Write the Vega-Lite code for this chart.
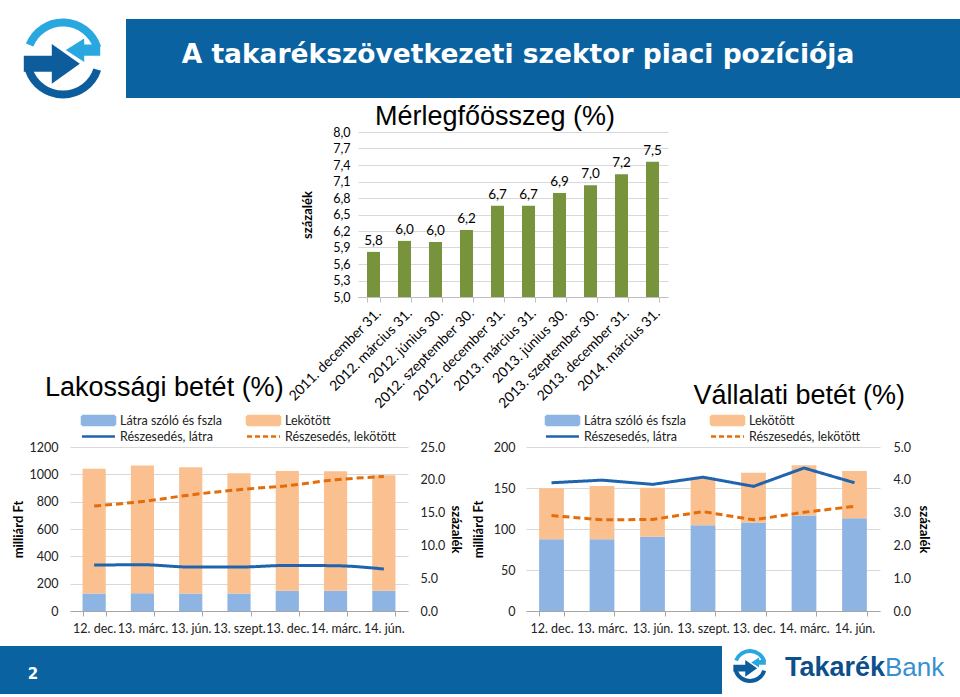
{
  "$schema": "https://vega.github.io/schema/vega-lite/v6.json",
  "padding": {"top": 18, "left": 0, "right": 0, "bottom": 0},
  "background": "white",
  "spacing": 0,
  "bounds": "flush",
  "resolve": {
    "scale": {"color": "independent", "strokeDash": "independent"},
    "legend": {"color": "independent", "strokeDash": "independent"}
  },
  "datasets": {
    "logo": [{"part": "light", "a": -68, "b": 72}, {"part": "dark", "a": 108, "b": 252}],
    "merleg": [
      {"d": "2011. december 31.", "v": 5.82},
      {"d": "2012. március 31.", "v": 6.02},
      {"d": "2012. június 30.", "v": 6.0},
      {"d": "2012. szeptember 30.", "v": 6.22},
      {"d": "2012. december 31.", "v": 6.66},
      {"d": "2013. március 31.", "v": 6.66},
      {"d": "2013. június 30.", "v": 6.89},
      {"d": "2013. szeptember 30.", "v": 7.03},
      {"d": "2013. december 31.", "v": 7.23},
      {"d": "2014. március 31.", "v": 7.46}
    ],
    "lak_bar": [
      {"q": "12. dec.", "s": "Látra szóló és fszla", "v": 128}, {"q": "12. dec.", "s": "Lekötött", "v": 912},
      {"q": "13. márc.", "s": "Látra szóló és fszla", "v": 130}, {"q": "13. márc.", "s": "Lekötött", "v": 934},
      {"q": "13. jún.", "s": "Látra szóló és fszla", "v": 128}, {"q": "13. jún.", "s": "Lekötött", "v": 924},
      {"q": "13. szept.", "s": "Látra szóló és fszla", "v": 128}, {"q": "13. szept.", "s": "Lekötött", "v": 880},
      {"q": "13. dec.", "s": "Látra szóló és fszla", "v": 148}, {"q": "13. dec.", "s": "Lekötött", "v": 877},
      {"q": "14. márc.", "s": "Látra szóló és fszla", "v": 148}, {"q": "14. márc.", "s": "Lekötött", "v": 874},
      {"q": "14. jún.", "s": "Látra szóló és fszla", "v": 148}, {"q": "14. jún.", "s": "Lekötött", "v": 845}
    ],
    "lak_line": [
      {"q": "12. dec.", "s": "Részesedés, látra", "p": 7.0}, {"q": "13. márc.", "s": "Részesedés, látra", "p": 7.05},
      {"q": "13. jún.", "s": "Részesedés, látra", "p": 6.7}, {"q": "13. szept.", "s": "Részesedés, látra", "p": 6.7},
      {"q": "13. dec.", "s": "Részesedés, látra", "p": 6.95}, {"q": "14. márc.", "s": "Részesedés, látra", "p": 6.9},
      {"q": "14. jún.", "s": "Részesedés, látra", "p": 6.4},
      {"q": "12. dec.", "s": "Részesedés, lekötött", "p": 16.0}, {"q": "13. márc.", "s": "Részesedés, lekötött", "p": 16.7},
      {"q": "13. jún.", "s": "Részesedés, lekötött", "p": 17.7}, {"q": "13. szept.", "s": "Részesedés, lekötött", "p": 18.5},
      {"q": "13. dec.", "s": "Részesedés, lekötött", "p": 19.1}, {"q": "14. márc.", "s": "Részesedés, lekötött", "p": 20.0},
      {"q": "14. jún.", "s": "Részesedés, lekötött", "p": 20.5}
    ],
    "vall_bar": [
      {"q": "12. dec.", "s": "Látra szóló és fszla", "v": 87.6}, {"q": "12. dec.", "s": "Lekötött", "v": 62.1},
      {"q": "13. márc.", "s": "Látra szóló és fszla", "v": 87.6}, {"q": "13. márc.", "s": "Lekötött", "v": 64.8},
      {"q": "13. jún.", "s": "Látra szóló és fszla", "v": 90.5}, {"q": "13. jún.", "s": "Lekötött", "v": 59.9},
      {"q": "13. szept.", "s": "Látra szóló és fszla", "v": 104.5}, {"q": "13. szept.", "s": "Lekötött", "v": 58.0},
      {"q": "13. dec.", "s": "Látra szóló és fszla", "v": 107.8}, {"q": "13. dec.", "s": "Lekötött", "v": 60.7},
      {"q": "14. márc.", "s": "Látra szóló és fszla", "v": 116.6}, {"q": "14. márc.", "s": "Lekötött", "v": 61.2},
      {"q": "14. jún.", "s": "Látra szóló és fszla", "v": 113.0}, {"q": "14. jún.", "s": "Lekötött", "v": 57.6}
    ],
    "vall_line": [
      {"q": "12. dec.", "s": "Részesedés, látra", "p": 3.91}, {"q": "13. márc.", "s": "Részesedés, látra", "p": 3.99},
      {"q": "13. jún.", "s": "Részesedés, látra", "p": 3.86}, {"q": "13. szept.", "s": "Részesedés, látra", "p": 4.08},
      {"q": "13. dec.", "s": "Részesedés, látra", "p": 3.8}, {"q": "14. márc.", "s": "Részesedés, látra", "p": 4.36},
      {"q": "14. jún.", "s": "Részesedés, látra", "p": 3.91},
      {"q": "12. dec.", "s": "Részesedés, lekötött", "p": 2.91}, {"q": "13. márc.", "s": "Részesedés, lekötött", "p": 2.78},
      {"q": "13. jún.", "s": "Részesedés, lekötött", "p": 2.79}, {"q": "13. szept.", "s": "Részesedés, lekötött", "p": 3.03},
      {"q": "13. dec.", "s": "Részesedés, lekötött", "p": 2.78}, {"q": "14. márc.", "s": "Részesedés, lekötött", "p": 3.01},
      {"q": "14. jún.", "s": "Részesedés, lekötött", "p": 3.19}
    ]
  },
  "vconcat": [
    {
      "spacing": 0, "bounds": "flush",
      "hconcat": [
        {
          "width": 126, "height": 79,
          "data": {"name": "logo"},
          "layer": [
            {
              "mark": {"type": "arc", "innerRadius": 32, "outerRadius": 40},
              "encoding": {
                "theta": {"field": "a", "type": "quantitative", "stack": null, "scale": {"domain": [0, 360], "range": [0, 6.2832]}},
                "theta2": {"field": "b"},
                "color": {"field": "part", "type": "nominal", "scale": {"domain": ["light", "dark"], "range": ["#29a8e0", "#0d5c9c"]}, "legend": null}
              }
            },
            {
              "data": {"values": [{"k": "dark"}]},
              "mark": {"type": "point", "filled": true, "opacity": 1, "color": "#0d5c9c", "strokeWidth": 0, "size": 6400,
                       "shape": "M-0.98,-0.07L-0.28,-0.07L-0.28,-0.36L0.42,0.13L-0.28,0.63L-0.28,0.33L-0.98,0.33Z"},
              "encoding": {}
            },
            {
              "data": {"values": [{"k": "light"}]},
              "mark": {"type": "point", "filled": true, "opacity": 1, "color": "#29a8e0", "strokeWidth": 0, "size": 6400,
                       "shape": "M0.07,-0.21L0.53,-0.5L0.53,-0.35L0.93,-0.35L0.93,-0.07L0.53,-0.07L0.53,0.09Z"},
              "encoding": {}
            }
          ]
        },
        {
          "width": 834, "height": 79,
          "view": {"fill": "#0a62a0", "stroke": null},
          "data": {"values": [{"t": "A takarékszövetkezeti szektor piaci pozíciója"}]},
          "mark": {"type": "text", "color": "white", "fontWeight": "bold", "fontSize": 26.5, "font": "DejaVu Sans", "dx": -25, "dy": -4},
          "encoding": {"text": {"field": "t"}}
        }
      ]
    },
    {"width": 1, "height": 113, "data": {"values": []}, "mark": "point"},
    {
      "spacing": 0, "bounds": "flush",
      "hconcat": [
        {"width": 358, "height": 1, "data": {"values": []}, "mark": "point"},
        {
          "width": 310, "height": 165,
          "data": {"name": "merleg"},
          "title": {"text": "Mérlegfőösszeg (%)", "anchor": "middle", "frame": "group", "dx": -18, "offset": -5, "fontSize": 27},
          "transform": [{"calculate": "replace(format(datum.v, '.1f'), '.', ',')", "as": "lab"}],
          "encoding": {
            "x": {"field": "d", "type": "nominal", "sort": null,
                  "scale": {"paddingInner": 0.58, "paddingOuter": 0.29},
                  "axis": {"title": null, "labelAngle": -45, "tickBand": "extent", "labelFontSize": 14, "domainColor": "#bfbfbf", "tickColor": "#bfbfbf", "tickSize": 5, "labelPadding": 4, "labelColor": "#000"}},
            "y": {"field": "v", "type": "quantitative",
                  "scale": {"domain": [5, 8], "zero": false, "nice": false, "clamp": true},
                  "axis": {"title": "százalék", "values": [5, 5.3, 5.6, 5.9, 6.2, 6.5, 6.8, 7.1, 7.4, 7.7, 8],
                           "labelExpr": "replace(format(datum.value, '.1f'), '.', ',')",
                           "grid": true, "gridColor": "#d9d9d9", "domain": false, "ticks": false,
                           "labelPadding": 8, "titlePadding": 18, "labelColor": "#000"}}
          },
          "layer": [
            {"mark": {"type": "bar", "color": "#77933c"}},
            {"mark": {"type": "text", "dy": -11, "fontSize": 13.5, "color": "#000"}, "encoding": {"text": {"field": "lab"}}}
          ]
        }
      ]
    },
    {"width": 1, "height": 315, "data": {"values": []}, "mark": "point"},
    {
      "spacing": 0, "bounds": "flush",
      "resolve": {
        "scale": {"color": "independent", "strokeDash": "independent"},
        "legend": {"color": "independent", "strokeDash": "independent"}
      },
      "hconcat": [
        {"width": 70, "height": 1, "data": {"values": []}, "mark": "point"},
        {
          "width": 338, "height": 164,
          "title": {"text": "Lakossági betét (%)", "anchor": "start", "frame": "group", "dx": -25, "offset": 12, "fontSize": 27},
          "encoding": {
            "x": {"field": "q", "type": "nominal",
                  "sort": ["12. dec.", "13. márc.", "13. jún.", "13. szept.", "13. dec.", "14. márc.", "14. jún."],
                  "scale": {"paddingInner": 0.52, "paddingOuter": 0.26},
                  "axis": {"title": null, "labelAngle": 0, "tickBand": "extent", "labelOverlap": false, "labelBound": false, "labelLimit": 0, "domainColor": "#a6a6a6", "tickColor": "#a6a6a6", "tickSize": 5, "labelPadding": 6}}
          },
          "layer": [
            {
              "data": {"name": "lak_bar"},
              "transform": [{"calculate": "datum.s === 'Látra szóló és fszla' ? 0 : 1", "as": "ord"}],
              "mark": {"type": "bar"},
              "encoding": {
                "y": {"field": "v", "type": "quantitative", "stack": "zero", "scale": {"domain": [0, 1200], "nice": false},
                      "axis": {"title": "milliárd Ft", "format": "d", "values": [0, 200, 400, 600, 800, 1000, 1200], "grid": true, "gridColor": "#d9d9d9", "domain": false, "ticks": false, "labelPadding": 12, "titlePadding": 4}},
                "order": {"field": "ord"},
                "color": {"field": "s", "type": "nominal",
                          "scale": {"domain": ["Látra szóló és fszla", "Lekötött", "Részesedés, látra", "Részesedés, lekötött"], "range": ["#8db4e2", "#fac090", "#1f64ad", "#e46c0a"]},
                          "legend": {
                            "title": null, "orient": "top", "direction": "horizontal", "columns": 2, "columnPadding": 20, "rowPadding": 0, "offset": 4,
                            "labelFontSize": 12.5, "labelFont": "Lato", "labelColor": "#222", "labelOffset": 25, "symbolSize": 100, "labelLimit": 0,
                            "encode": {"symbols": {"update": {
                              "x": {"value": 16.5},
                              "size": {"value": 100},
                              "shape": {"signal": "indexof(datum.value, 'Részesedés') === 0 ? 'M-3.3,0H3.3' : 'M-3.3,-0.9H3.3V0.9H-3.3Z'"},
                              "fill": {"signal": "datum.value === 'Látra szóló és fszla' ? '#8db4e2' : datum.value === 'Lekötött' ? '#fac090' : 'transparent'"},
                              "stroke": {"signal": "datum.value === 'Részesedés, látra' ? '#1f64ad' : datum.value === 'Részesedés, lekötött' ? '#e46c0a' : 'transparent'"},
                              "strokeDash": {"signal": "datum.value === 'Részesedés, lekötött' ? [5, 3] : [1, 0]"},
                              "strokeWidth": {"value": 2.5},
                              "opacity": {"value": 1}
                            }}}
                          }}
              }
            },
            {
              "data": {"name": "lak_line"},
              "mark": {"type": "line", "interpolate": "monotone", "strokeWidth": 3},
              "encoding": {
                "y": {"field": "p", "type": "quantitative", "scale": {"domain": [0, 25], "nice": false},
                      "axis": {"orient": "right", "title": "százalék", "values": [0, 5, 10, 15, 20, 25], "format": ".1f", "grid": false, "domain": false, "ticks": false, "labelPadding": 12, "titlePadding": 4}},
                "color": {"field": "s", "type": "nominal"},
                "strokeDash": {"field": "s", "type": "nominal", "scale": {"domain": ["Részesedés, látra", "Részesedés, lekötött"], "range": [[1, 0], [7, 4]]}, "legend": null}
              }
            }
          ],
          "resolve": {"scale": {"y": "independent"}}
        },
        {"width": 118, "height": 1, "data": {"values": []}, "mark": "point"},
        {
          "width": 354, "height": 164,
          "title": {"text": "Vállalati betét (%)", "anchor": "end", "frame": "group", "dx": 25, "offset": 4, "fontSize": 27},
          "encoding": {
            "x": {"field": "q", "type": "nominal",
                  "sort": ["12. dec.", "13. márc.", "13. jún.", "13. szept.", "13. dec.", "14. márc.", "14. jún."],
                  "scale": {"paddingInner": 0.51, "paddingOuter": 0.26},
                  "axis": {"title": null, "labelAngle": 0, "tickBand": "extent", "labelOverlap": false, "labelBound": false, "labelLimit": 0, "domainColor": "#a6a6a6", "tickColor": "#a6a6a6", "tickSize": 5, "labelPadding": 6}}
          },
          "layer": [
            {
              "data": {"name": "vall_bar"},
              "transform": [{"calculate": "datum.s === 'Látra szóló és fszla' ? 0 : 1", "as": "ord"}],
              "mark": {"type": "bar"},
              "encoding": {
                "y": {"field": "v", "type": "quantitative", "stack": "zero", "scale": {"domain": [0, 200], "nice": false},
                      "axis": {"title": "milliárd Ft", "format": "d", "values": [0, 50, 100, 150, 200], "grid": true, "gridColor": "#d9d9d9", "domain": false, "ticks": false, "labelPadding": 11, "titlePadding": 8}},
                "order": {"field": "ord"},
                "color": {"field": "s", "type": "nominal",
                          "scale": {"domain": ["Látra szóló és fszla", "Lekötött", "Részesedés, látra", "Részesedés, lekötött"], "range": ["#8db4e2", "#fac090", "#1f64ad", "#e46c0a"]},
                          "legend": {
                            "title": null, "orient": "top", "direction": "horizontal", "columns": 2, "columnPadding": 20, "rowPadding": 0, "offset": 4,
                            "labelFontSize": 12.5, "labelFont": "Lato", "labelColor": "#222", "labelOffset": 25, "symbolSize": 100, "labelLimit": 0,
                            "encode": {"symbols": {"update": {
                              "x": {"value": 16.5},
                              "size": {"value": 100},
                              "shape": {"signal": "indexof(datum.value, 'Részesedés') === 0 ? 'M-3.3,0H3.3' : 'M-3.3,-0.9H3.3V0.9H-3.3Z'"},
                              "fill": {"signal": "datum.value === 'Látra szóló és fszla' ? '#8db4e2' : datum.value === 'Lekötött' ? '#fac090' : 'transparent'"},
                              "stroke": {"signal": "datum.value === 'Részesedés, látra' ? '#1f64ad' : datum.value === 'Részesedés, lekötött' ? '#e46c0a' : 'transparent'"},
                              "strokeDash": {"signal": "datum.value === 'Részesedés, lekötött' ? [5, 3] : [1, 0]"},
                              "strokeWidth": {"value": 2.5},
                              "opacity": {"value": 1}
                            }}}
                          }}
              }
            },
            {
              "data": {"name": "vall_line"},
              "mark": {"type": "line", "strokeWidth": 3},
              "encoding": {
                "y": {"field": "p", "type": "quantitative", "scale": {"domain": [0, 5], "nice": false},
                      "axis": {"orient": "right", "title": "százalék", "values": [0, 1, 2, 3, 4, 5], "format": ".1f", "grid": false, "domain": false, "ticks": false, "labelPadding": 13, "titlePadding": 6}},
                "color": {"field": "s", "type": "nominal"},
                "strokeDash": {"field": "s", "type": "nominal", "scale": {"domain": ["Részesedés, látra", "Részesedés, lekötött"], "range": [[1, 0], [7, 4]]}, "legend": null}
              }
            }
          ],
          "resolve": {"scale": {"y": "independent"}}
        }
      ]
    },
    {"width": 1, "height": 199, "data": {"values": []}, "mark": "point"},
    {
      "spacing": 0, "bounds": "flush",
      "hconcat": [
        {
          "width": 722, "height": 48,
          "view": {"fill": "#0a62a0", "stroke": null},
          "data": {"values": [{"t": "2"}]},
          "mark": {"type": "text", "color": "white", "fontWeight": "bold", "fontSize": 15, "font": "DejaVu Sans", "dx": -328, "dy": 4},
          "encoding": {"text": {"field": "t"}}
        },
        {
          "width": 236, "height": 48,
          "layer": [
            {
              "data": {"name": "logo"},
              "mark": {"type": "arc", "innerRadius": 13, "outerRadius": 17, "xOffset": -90, "yOffset": -4},
              "encoding": {
                "theta": {"field": "a", "type": "quantitative", "stack": null, "scale": {"domain": [0, 360], "range": [0, 6.2832]}},
                "theta2": {"field": "b"},
                "color": {"field": "part", "type": "nominal", "scale": {"domain": ["light", "dark"], "range": ["#29a8e0", "#0d5c9c"]}, "legend": null}
              }
            },
            {
              "data": {"values": [{"k": "dark"}]},
              "mark": {"type": "point", "filled": true, "opacity": 1, "color": "#0d5c9c", "strokeWidth": 0, "size": 1156, "xOffset": -90, "yOffset": -4,
                       "shape": "M-0.98,-0.07L-0.28,-0.07L-0.28,-0.36L0.42,0.13L-0.28,0.63L-0.28,0.33L-0.98,0.33Z"},
              "encoding": {}
            },
            {
              "data": {"values": [{"k": "light"}]},
              "mark": {"type": "point", "filled": true, "opacity": 1, "color": "#29a8e0", "strokeWidth": 0, "size": 1156, "xOffset": -90, "yOffset": -4,
                       "shape": "M0.07,-0.21L0.53,-0.5L0.53,-0.35L0.93,-0.35L0.93,-0.07L0.53,-0.07L0.53,0.09Z"},
              "encoding": {}
            },
            {
              "data": {"values": [{"t": "Takarék"}]},
              "mark": {"type": "text", "align": "right", "baseline": "alphabetic", "dx": 45, "dy": 6, "fontSize": 27, "fontWeight": "bold", "font": "Liberation Sans", "color": "#0d4f8b"},
              "encoding": {"text": {"field": "t"}}
            },
            {
              "data": {"values": [{"t": "Bank"}]},
              "mark": {"type": "text", "align": "left", "baseline": "alphabetic", "dx": 45, "dy": 6, "fontSize": 26, "font": "Liberation Sans", "color": "#3a8fd0"},
              "encoding": {"text": {"field": "t"}}
            }
          ]
        }
      ]
    }
  ],
  "config": {
    "view": {"stroke": null},
    "font": "Lato",
    "axis": {"labelFont": "Lato", "titleFont": "Lato", "labelColor": "#222", "titleColor": "#000", "labelFontSize": 12.5, "titleFontSize": 13, "titleFontWeight": "bold"},
    "legend": {"layout": {"top": {"anchor": "middle"}}},
    "title": {"font": "Liberation Sans", "fontWeight": "normal", "fontSize": 24, "color": "#000"}
  }
}
